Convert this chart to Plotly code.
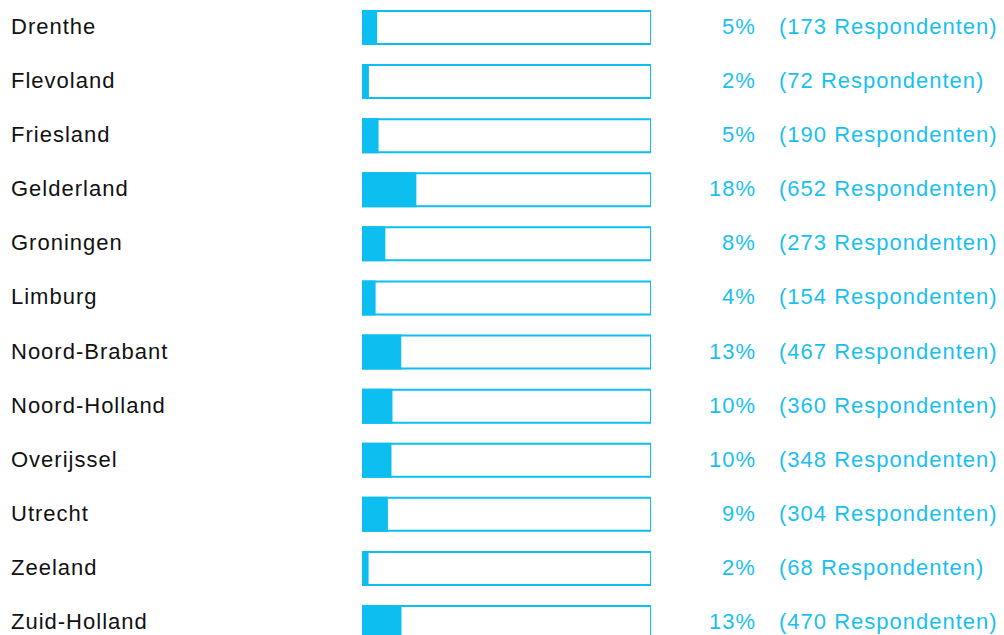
import plotly.graph_objects as go

provinces = ["Drenthe", "Flevoland", "Friesland", "Gelderland", "Groningen", "Limburg",
             "Noord-Brabant", "Noord-Holland", "Overijssel", "Utrecht", "Zeeland", "Zuid-Holland"]
percent_labels = [5, 2, 5, 18, 8, 4, 13, 10, 10, 9, 2, 13]
respondents = [173, 72, 190, 652, 273, 154, 467, 360, 348, 304, 68, 470]

total = sum(respondents)
shares = [r / total * 100 for r in respondents]

CYAN = "#0dbef0"
W, H = 1004, 635

fig = go.Figure()
fig.add_trace(go.Bar(
    y=provinces, x=[100] * len(provinces), orientation="h",
    marker=dict(color="white", line=dict(color=CYAN, width=2)),
    width=0.61, hoverinfo="skip", showlegend=False,
))
fig.add_trace(go.Bar(
    y=provinces, x=shares, orientation="h",
    marker=dict(color=CYAN, line=dict(color=CYAN, width=2)),
    width=0.61, showlegend=False,
))

row0 = 27.5
step = 54.09
y_top = -row0 / step
y_bot = (H - row0) / step

font = dict(family="Liberation Sans, Arial, sans-serif", size=22)


def spaced(t):
    return f'<span style="letter-spacing:1px">{t}</span>'


for p, pc, r in zip(provinces, percent_labels, respondents):
    fig.add_annotation(x=9 / W, xref="paper", y=p, yref="y", text=spaced(p), showarrow=False,
                       xanchor="left", yanchor="middle", yshift=1, font=dict(font, color="#111111"))
    fig.add_annotation(x=758 / W, xref="paper", y=p, yref="y", text=spaced(f"{pc}%"), showarrow=False,
                       xanchor="right", yanchor="middle", yshift=1, font=dict(font, color="#1abff0"))
    fig.add_annotation(x=777 / W, xref="paper", y=p, yref="y", text=spaced(f"({r} Respondenten)"),
                       showarrow=False, xanchor="left", yanchor="middle", yshift=1,
                       font=dict(font, color="#1abff0"))

fig.update_layout(
    width=W, height=H, margin=dict(l=0, r=0, t=0, b=0),
    paper_bgcolor="white", plot_bgcolor="white",
    barmode="overlay",
    xaxis=dict(domain=[362 / W, 651 / W], range=[0, 100], visible=False, fixedrange=True),
    yaxis=dict(range=[y_bot, y_top], visible=False, categoryorder="array",
               categoryarray=provinces, fixedrange=True),
)

fig.write_html("out.html", config={"displayModeBar": False},
               post_script="document.body.style.margin='0';document.body.style.padding='0';")
